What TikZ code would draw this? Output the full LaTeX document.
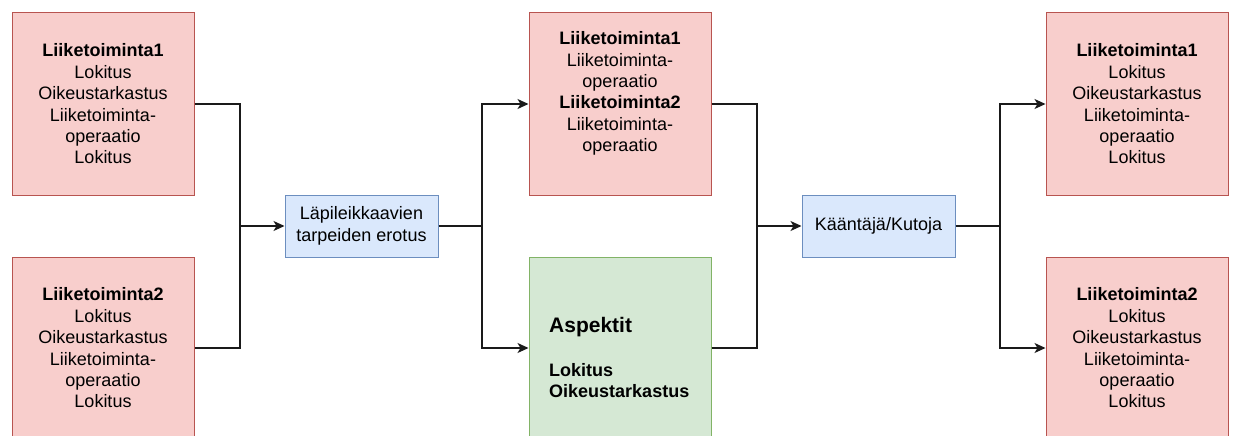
\documentclass[tikz,border=0pt]{standalone}
\usepackage{fontspec}
\setmainfont{Liberation Sans}
\usetikzlibrary{arrows.meta}
\definecolor{redfill}{HTML}{F8CECC}
\definecolor{redline}{HTML}{B85450}
\definecolor{bluefill}{HTML}{DAE8FC}
\definecolor{blueline}{HTML}{6C8EBF}
\definecolor{greenfill}{HTML}{D5E8D4}
\definecolor{greenline}{HTML}{82B366}
\definecolor{conn}{HTML}{1A1A1A}
\begin{document}
\begin{tikzpicture}[x=1pt,y=-1pt,
  every node/.style={font=\fontsize{18}{21.4}\selectfont},
  bigbox/.style={draw, line width=1pt, minimum width=182pt, minimum height=182pt, inner sep=0pt, align=center},
  redbox/.style={bigbox, fill=redfill, draw=redline},
  greenbox/.style={bigbox, fill=greenfill, draw=greenline},
  bluebox/.style={draw=blueline, fill=bluefill, line width=1pt, minimum width=153pt, minimum height=62pt, inner sep=0pt, align=center},
  txt/.style={inner sep=0pt, align=center},
  link/.style={draw=conn, line width=1.3pt},
  arr/.style={link, -{Stealth[length=11pt,width=10pt,inset=3pt]}}
]
\useasboundingbox (0,0) rectangle (1234,436);
\clip (0,0) rectangle (1234,436);

% left column
\node[redbox] (lt) at (103,104) {\textbf{Liiketoiminta1}\\Lokitus\\Oikeustarkastus\\Liiketoiminta-\\operaatio\\Lokitus};
\node[redbox] (lb) at (103,348) {\textbf{Liiketoiminta2}\\Lokitus\\Oikeustarkastus\\Liiketoiminta-\\operaatio\\Lokitus};

% first process
\node[bluebox] (b1) at (361.5,226) {Läpileikkaavien\\tarpeiden erotus};

% middle column
\node[redbox] (mt) at (620,104) {};
\node[txt] (mtt) at (620,93.5) {\textbf{Liiketoiminta1}\\Liiketoiminta-\\operaatio\\\textbf{Liiketoiminta2}\\Liiketoiminta-\\operaatio};
\node[greenbox] (gr) at (620,348) {};
\node[inner sep=0pt, anchor=base west, font=\fontsize{21}{24}\selectfont\bfseries] (asp) at (549,332.5) {Aspektit};
\node[inner sep=0pt, anchor=base west, font=\fontsize{18}{21.4}\selectfont\bfseries] (lok) at (549,376.5) {Lokitus};
\node[inner sep=0pt, anchor=base west, font=\fontsize{18}{21.4}\selectfont\bfseries] (oik) at (549,397) {Oikeustarkastus};

% second process
\node[bluebox] (b2) at (878.5,226) {Kääntäjä/Kutoja};

% right column
\node[redbox] (rt) at (1137,104) {\textbf{Liiketoiminta1}\\Lokitus\\Oikeustarkastus\\Liiketoiminta-\\operaatio\\Lokitus};
\node[redbox] (rb) at (1137,348) {\textbf{Liiketoiminta2}\\Lokitus\\Oikeustarkastus\\Liiketoiminta-\\operaatio\\Lokitus};

% connectors
\coordinate (j1) at (240,226);
\coordinate (j2) at (482,226);
\coordinate (j3) at (757,226);
\coordinate (j4) at (1000,226);

\draw[link] (lt.east) -| (j1);
\draw[link] (lb.east) -| (j1);
\draw[arr] (j1) -- (b1.west);

\draw[link] (b1.east) -- (j2);
\draw[arr] (j2) |- (mt.west);
\draw[arr] (j2) |- (gr.west);

\draw[link] (mt.east) -| (j3);
\draw[link] (gr.east) -| (j3);
\draw[arr] (j3) -- (b2.west);

\draw[link] (b2.east) -- (j4);
\draw[arr] (j4) |- (rt.west);
\draw[arr] (j4) |- (rb.west);
\end{tikzpicture}
\end{document}
